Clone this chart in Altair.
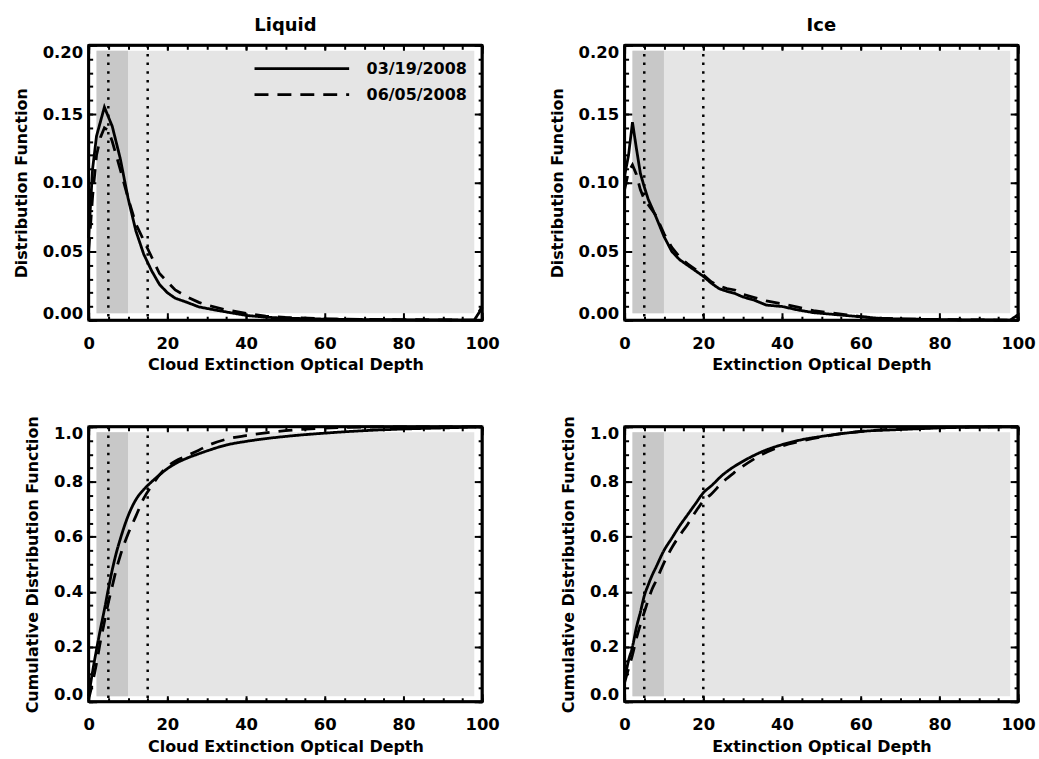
import altair as alt
import pandas as pd

FONT = "DejaVu Sans"
DATES = ["03/19/2008", "06/05/2008"]
DASHES = [[1, 0], [14, 9]]
LIGHT = "#e5e5e5"
DARK = "#c8c8c8"
FRAME_COLOR = "black"

# ---- Liquid, distribution function ----
liq_pdf_x1 = [0, 1, 2, 4, 6, 8, 10, 12, 14, 16, 18, 20, 22, 25, 28, 32, 36, 40, 45, 50,
              60, 70, 80, 90, 98, 100]
liq_pdf_y1 = [0.06, 0.11, 0.134, 0.155, 0.141, 0.118, 0.089, 0.065, 0.048, 0.036,
              0.026, 0.020, 0.016, 0.013, 0.0097, 0.0075, 0.0055, 0.0035, 0.0022, 0.0015,
              0.0008, 0.0005, 0.0003, 0.0002, 0.0001, 0.009]
liq_pdf_x2 = [0, 1, 2, 3, 4, 5, 6, 7, 8, 10, 12, 14, 15, 16, 18, 20, 22, 25, 28, 30,
              35, 40, 45, 50, 60, 70, 80, 90, 98, 100]
liq_pdf_y2 = [0.05, 0.09, 0.12, 0.133, 0.14, 0.138, 0.13, 0.12, 0.11, 0.089,
              0.07, 0.058, 0.052, 0.046, 0.034, 0.028, 0.022, 0.017, 0.013, 0.011,
              0.0075, 0.005, 0.003, 0.002, 0.001, 0.0006, 0.0004, 0.0002, 0.0001, 0.01]

# ---- Ice, distribution function ----
ice_pdf_x = [0, 1, 2, 3, 4, 5, 6, 8, 10, 12, 14, 16, 18, 20, 22, 24, 26, 28, 30, 33,
             36, 40, 44, 48, 52, 56, 60, 65, 70, 80, 90, 98, 100]
ice_pdf_y1 = [0.105, 0.12, 0.144, 0.125, 0.107, 0.097, 0.088, 0.075, 0.061, 0.050,
              0.044, 0.040, 0.036, 0.032, 0.027, 0.023, 0.021, 0.0195, 0.017, 0.0145,
              0.011, 0.010, 0.0075, 0.0055, 0.0045, 0.0035, 0.0025, 0.0013, 0.0009, 0.0005,
              0.0002, 0.0001, 0.004]
ice_pdf_y2 = [0.095, 0.108, 0.113, 0.106, 0.095, 0.088, 0.084, 0.076, 0.063, 0.053,
              0.046, 0.041, 0.037, 0.033, 0.028, 0.025, 0.023, 0.022, 0.019, 0.0165,
              0.014, 0.012, 0.0095, 0.007, 0.0055, 0.004, 0.0027, 0.0015, 0.001, 0.0005,
              0.0002, 0.0001, 0.003]

# ---- Liquid, cumulative distribution ----
liq_cdf_x = [0, 1, 2, 3, 4, 5, 6, 7, 8, 10, 12, 14, 16, 18, 20, 22, 25, 28, 30,
             35, 40, 45, 50, 60, 70, 80, 90, 100]
liq_cdf_y1 = [0.02, 0.11, 0.19, 0.265, 0.335, 0.41, 0.48, 0.54, 0.59,
              0.675, 0.735, 0.772, 0.80, 0.825, 0.848, 0.866, 0.886, 0.902, 0.912,
              0.934, 0.947, 0.957, 0.965, 0.977, 0.986, 0.992, 0.996, 1.0]
liq_cdf_y2 = [0.01, 0.07, 0.14, 0.22, 0.29, 0.36, 0.42, 0.48, 0.53,
              0.61, 0.675, 0.74, 0.785, 0.825, 0.855, 0.875, 0.895, 0.915, 0.93,
              0.955, 0.968, 0.978, 0.986, 0.995, 0.999, 1.0, 1.0, 1.0]

# ---- Ice, cumulative distribution ----
ice_cdf_x = [0, 1, 2, 3, 4, 5, 6, 7, 8, 10, 12, 14, 16, 18, 20, 22, 25, 28, 30,
             35, 40, 45, 50, 55, 60, 70, 80, 90, 100]
ice_cdf_y1 = [0.08, 0.15, 0.20, 0.27, 0.325, 0.385, 0.425, 0.46, 0.49,
              0.55, 0.595, 0.64, 0.68, 0.72, 0.76, 0.785, 0.826, 0.857, 0.874,
              0.91, 0.935, 0.953, 0.965, 0.975, 0.983, 0.99, 0.996, 0.999, 1.0]
ice_cdf_y2 = [0.07, 0.12, 0.17, 0.23, 0.28, 0.325, 0.37, 0.41, 0.44,
              0.505, 0.56, 0.605, 0.645, 0.69, 0.73, 0.755, 0.80, 0.835, 0.856,
              0.90, 0.93, 0.948, 0.963, 0.975, 0.983, 0.993, 0.997, 0.999, 1.0]

# shaded ranges and reference lines
shade_x = [2, 98]
dark_x = [2, 10]
pdf_shade_y = [0.005, 0.196]
cdf_shade_y = [0.02, 0.98]
liq_dotted = [5, 15]
ice_dotted = [5, 20]

# ticks / axis ranges
X_RANGE = [0, 100]
X_MAJOR = [0, 20, 40, 60, 80, 100]
X_MINOR = list(range(0, 101, 5))
PDF_MAJOR = [0.0, 0.05, 0.10, 0.15, 0.20]
PDF_MINOR = [round(i * 0.01, 2) for i in range(0, 21)]
CDF_MAJOR = [0.0, 0.2, 0.4, 0.6, 0.8, 1.0]
CDF_MINOR = [round(i * 0.05, 2) for i in range(0, 21)]

W, H = 395, 276
MAJ, MIN = 8, 4


def ax(orient, values, size, fmt=None, labels=False, title=None):
    kw = dict(orient=orient, values=values, tickSize=size, offset=-size, domain=False,
              grid=False, ticks=True, tickColor="black", tickWidth=2, labels=labels,
              title=title)
    if labels:
        kw.update(format=fmt, labelFont=FONT, labelFontSize=16.5, labelFontWeight="bold",
                  labelColor="black")
        if orient in ("bottom", "top"):
            kw.update(labelPadding=15, labelFlush=False)
        else:
            kw.update(labelPadding=6, labelFlush=True, labelFlushOffset=1)
    if title:
        kw.update(titleFont=FONT, titleFontSize=16, titleFontWeight="bold", titleColor="black")
        if orient in ("bottom", "top"):
            kw.update(titlePadding=5)
        else:
            kw.update(titlePadding=13)
    return alt.Axis(**kw)


def series(x, y, date):
    return pd.DataFrame({"tau": x, "val": y, "date": [date] * len(x)})


def panel(xs1, ys1, xs2, ys2, dotted, shade_y, ymaj, ymin, yfmt, xtitle, ytitle,
          title=None, legend=False, interp="linear"):
    xsc = alt.Scale(domain=X_RANGE, nice=False, zero=False)
    ysc = alt.Scale(domain=[ymaj[0], ymaj[-1]], nice=False, zero=False)
    light = pd.DataFrame({"x0": [shade_x[0]], "x1": [shade_x[1]],
                          "y0": [shade_y[0]], "y1": [shade_y[1]]})
    dark = pd.DataFrame({"x0": [dark_x[0]], "x1": [dark_x[1]],
                         "y0": [shade_y[0]], "y1": [shade_y[1]]})
    l1 = alt.Chart(light).mark_rect(color=LIGHT).encode(
        x=alt.X("x0:Q", scale=xsc, axis=ax("bottom", X_MAJOR, MAJ, "d", True, xtitle)),
        x2="x1:Q",
        y=alt.Y("y0:Q", scale=ysc, axis=ax("left", ymaj, MAJ, yfmt, True, ytitle)),
        y2="y1:Q",
    )
    l2 = alt.Chart(dark).mark_rect(color=DARK).encode(
        x=alt.X("x0:Q", scale=xsc, axis=ax("bottom", X_MINOR, MIN)),
        x2="x1:Q",
        y=alt.Y("y0:Q", scale=ysc, axis=ax("left", ymin, MIN)),
        y2="y1:Q",
    )
    l3 = alt.Chart(pd.DataFrame({"tau": dotted})).mark_rule(
        color="black", strokeDash=[2.5, 6.2], strokeWidth=2.5
    ).encode(x=alt.X("tau:Q", scale=xsc, axis=None))

    if legend:
        leg = alt.Legend(title=None, orient="top-right", offset=15, symbolType="stroke",
                         symbolSize=9025, symbolStrokeWidth=2.8, symbolStrokeColor="black",
                         labelFont=FONT, labelFontSize=16, labelFontWeight="bold",
                         labelColor="black", labelOffset=16, clipHeight=17, rowPadding=9,
                         padding=0)
    else:
        leg = None
    dash = alt.StrokeDash("date:N", scale=alt.Scale(domain=DATES, range=DASHES), legend=leg)

    l4 = alt.Chart(series(xs1, ys1, DATES[0])).mark_line(
        color="black", strokeWidth=2.8, interpolate=interp
    ).encode(
        x=alt.X("tau:Q", scale=xsc, axis=ax("top", X_MAJOR, MAJ)),
        y=alt.Y("val:Q", scale=ysc, axis=ax("right", ymaj, MAJ)),
        strokeDash=dash,
    )
    l5 = alt.Chart(series(xs2, ys2, DATES[1])).mark_line(
        color="black", strokeWidth=2.8, interpolate=interp
    ).encode(
        x=alt.X("tau:Q", scale=xsc, axis=ax("top", X_MINOR, MIN)),
        y=alt.Y("val:Q", scale=ysc, axis=ax("right", ymin, MIN)),
        strokeDash=dash,
    )
    # plot frame: vertical sides at the x-range ends, horizontal sides at the y-range ends
    fx = alt.Chart(pd.DataFrame({"tau": X_RANGE})).mark_rule(
        color=FRAME_COLOR, strokeWidth=3
    ).encode(x=alt.X("tau:Q", scale=xsc, axis=None))
    fy = alt.Chart(pd.DataFrame({"val": [ymaj[0], ymaj[-1]]})).mark_rule(
        color=FRAME_COLOR, strokeWidth=3
    ).encode(y=alt.Y("val:Q", scale=ysc, axis=None))

    props = dict(width=W, height=H)
    if title:
        props["title"] = alt.TitleParams(title, font=FONT, fontSize=18, fontWeight="bold",
                                         color="black", anchor="middle", offset=9)
    return alt.layer(l1, l2, l3, l4, l5, fx, fy).resolve_axis(
        x="independent", y="independent").properties(**props)


tl = panel(liq_pdf_x1, liq_pdf_y1, liq_pdf_x2, liq_pdf_y2, liq_dotted, pdf_shade_y,
           PDF_MAJOR, PDF_MINOR, ".2f", "Cloud Extinction Optical Depth",
           "Distribution Function", title="Liquid", legend=True)
tr = panel(ice_pdf_x, ice_pdf_y1, ice_pdf_x, ice_pdf_y2, ice_dotted, pdf_shade_y,
           PDF_MAJOR, PDF_MINOR, ".2f", "Extinction Optical Depth",
           "Distribution Function", title="Ice")
bl = panel(liq_cdf_x, liq_cdf_y1, liq_cdf_x, liq_cdf_y2, liq_dotted, cdf_shade_y,
           CDF_MAJOR, CDF_MINOR, ".1f", "Cloud Extinction Optical Depth",
           "Cumulative Distribution Function", interp="monotone")
br = panel(ice_cdf_x, ice_cdf_y1, ice_cdf_x, ice_cdf_y2, ice_dotted, cdf_shade_y,
           CDF_MAJOR, CDF_MINOR, ".1f", "Extinction Optical Depth",
           "Cumulative Distribution Function", interp="monotone")

chart = alt.concat(
    tl, tr, bl, br, columns=2, spacing={"row": 107, "column": 143}, bounds="flush",
    padding={"left": 12, "top": 14, "right": 2, "bottom": 2},
).resolve_scale(strokeDash="independent").resolve_legend(
    strokeDash="independent"
).configure_view(stroke="black", strokeWidth=2.5)

chart.save("out.html", embed_options={"renderer": "svg", "actions": False})
